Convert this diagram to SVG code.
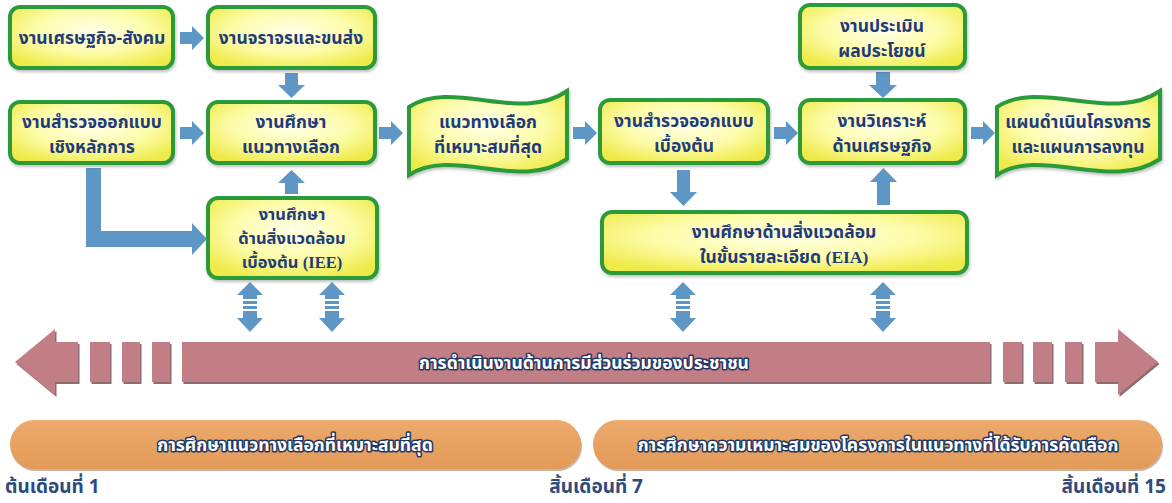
<svg xmlns="http://www.w3.org/2000/svg" width="1172" height="503" viewBox="0 0 1172 503">
<defs>
<radialGradient id="yel" cx="50%" cy="40%" r="65%">
<stop offset="0" stop-color="#FFFFE8"/>
<stop offset="0.55" stop-color="#FDFCA8"/>
<stop offset="1" stop-color="#EEEA48"/>
</radialGradient>
<linearGradient id="org" x1="0" y1="0" x2="0" y2="1">
<stop offset="0" stop-color="#EDAA6C"/>
<stop offset="1" stop-color="#E29A58"/>
</linearGradient>
<filter id="sh" x="-10%" y="-10%" width="120%" height="130%">
<feDropShadow dx="1" dy="2" stdDeviation="1.5" flood-color="#000" flood-opacity="0.25"/>
</filter>
<g id="dbl">
<path d="M0,0 L13,13 L7,13 L7,17 L-7,17 L-7,13 L-13,13 Z"/>
<rect x="-7" y="19" width="14" height="3"/>
<rect x="-7" y="24" width="14" height="3"/>
<path d="M-7,29 L7,29 L7,36 L13,36 L0,50 L-13,36 L-7,36 Z"/>
</g>
<path id="ra" d="M0,-6 L12,-6 L12,-12 L24,0 L12,12 L12,6 L0,6 Z"/>
</defs>
<style>
.box{fill:url(#yel);stroke:#2C9A3A;stroke-width:4;filter:url(#sh)}
.t{font-family:"Noto Sans Thai","Tahoma","DejaVu Sans","Noto Sans",sans-serif;font-weight:bold;font-size:17.5px;fill:#1F3C78;text-anchor:middle}
.s{font-size:16.5px}
.o{font-family:"Noto Sans Thai","Tahoma","DejaVu Sans","Noto Sans",sans-serif;font-weight:bold;font-size:17.5px;fill:#FFFFFF;stroke:#1E3766;stroke-width:3;paint-order:stroke;stroke-linejoin:round;text-anchor:middle}
.lb{font-family:"Noto Sans Thai","Tahoma","DejaVu Sans","Noto Sans",sans-serif;font-weight:bold;font-size:19px;fill:#2E4A7C}
.ser{font-family:"Liberation Serif",serif}
.arr{fill:#5E96C6}
.big{fill:#C17E84}
.bigs{fill:#8E6A72}
</style>
<rect width="1172" height="503" fill="#FFFFFF"/>

<g id="connectors">
<use href="#ra" class="arr" x="180" y="38"/>
<use href="#ra" class="arr" x="180" y="133"/>
<use href="#ra" class="arr" x="379" y="133"/>
<use href="#ra" class="arr" x="573" y="133"/>
<use href="#ra" class="arr" x="774" y="133"/>
<use href="#ra" class="arr" x="971" y="133"/>
<path class="arr" d="M285,73 L298,73 L298,85 L305,85 L291.5,98 L278,85 L285,85 Z"/>
<path class="arr" d="M291.5,170 L305,183 L298,183 L298,194 L285,194 L285,183 L278,183 Z"/>
<path class="arr" d="M677,170 L690,170 L690,192 L697,192 L683.5,206 L670,192 L677,192 Z"/>
<path class="arr" d="M883.5,168 L897,182 L890,182 L890,205 L877,205 L877,182 L870,182 Z"/>
<path class="arr" d="M876,72 L890,72 L890,85 L897,85 L883,98 L869,85 L876,85 Z"/>
<path class="arr" d="M86,168 L101,168 L101,231 L192,231 L192,223 L207,239 L192,255 L192,247 L86,247 Z"/>
<use href="#dbl" class="arr" x="250" y="282"/>
<use href="#dbl" class="arr" x="332" y="282"/>
<use href="#dbl" class="arr" x="683" y="282"/>
<use href="#dbl" class="arr" x="883" y="282"/>
</g>

<g id="b1">
<rect class="box" x="10" y="7" width="163" height="61" rx="10"/>
<text class="t" x="92" y="44">งานเศรษฐกิจ-สังคม</text>
</g>
<g id="b2">
<rect class="box" x="208" y="7" width="167" height="61" rx="10"/>
<text class="t" x="291" y="44">งานจราจรและขนส่ง</text>
</g>
<g id="b3">
<rect class="box" x="10" y="102" width="163" height="61" rx="10"/>
<text class="t" x="92" y="128">งานสำรวจออกแบบ</text>
<text class="t" x="92" y="153">เชิงหลักการ</text>
</g>
<g id="b4">
<rect class="box" x="208" y="102" width="167" height="61" rx="10"/>
<text class="t" x="291" y="128">งานศึกษา</text>
<text class="t" x="291" y="153">แนวทางเลือก</text>
</g>
<g id="iee">
<rect class="box" x="208" y="198" width="169" height="80" rx="10"/>
<text class="t s" x="292" y="220">งานศึกษา</text>
<text class="t s" x="292" y="244">ด้านสิ่งแวดล้อม</text>
<text class="t s" x="292" y="268">เบื้องต้น <tspan class="ser">(IEE)</tspan></text>
</g>
<g id="w1">
<path class="box" d="M409,107 C452,78 520,124 567,91 L567,159 C520,192 452,146 409,175 Z"/>
<text class="t" x="488" y="128">แนวทางเลือก</text>
<text class="t" x="488" y="153">ที่เหมาะสมที่สุด</text>
</g>
<g id="b5">
<rect class="box" x="600" y="100" width="168" height="63" rx="10"/>
<text class="t" x="684" y="127">งานสำรวจออกแบบ</text>
<text class="t" x="684" y="152">เบื้องต้น</text>
</g>
<g id="eia">
<rect class="box" x="602" y="212" width="365" height="61" rx="10"/>
<text class="t" x="784" y="238">งานศึกษาด้านสิ่งแวดล้อม</text>
<text class="t" x="784" y="263">ในขั้นรายละเอียด <tspan class="ser">(EIA)</tspan></text>
</g>
<g id="b6">
<rect class="box" x="800" y="5" width="165" height="63" rx="10"/>
<text class="t" x="882" y="32">งานประเมิน</text>
<text class="t" x="882" y="57">ผลประโยชน์</text>
</g>
<g id="b7">
<rect class="box" x="800" y="100" width="165" height="63" rx="10"/>
<text class="t" x="882" y="127">งานวิเคราะห์</text>
<text class="t" x="882" y="152">ด้านเศรษฐกิจ</text>
</g>
<g id="w2">
<path class="box" d="M997,107 C1040,78 1112,124 1160,91 L1160,159 C1112,192 1040,146 997,175 Z"/>
<text class="t" x="1078" y="128">แผนดำเนินโครงการ</text>
<text class="t" x="1078" y="153">และแผนการลงทุน</text>
</g>

<g id="band">
<g transform="translate(1.5,2)" class="bigs">
<path d="M15,362 L55,329 L55,342 L78,342 L78,382 L55,382 L55,395 Z"/>
<rect x="90" y="342" width="20" height="40"/>
<rect x="122" y="342" width="18" height="40"/>
<rect x="152" y="342" width="18" height="40"/>
<rect x="182" y="342" width="808" height="40"/>
<rect x="1003" y="342" width="19" height="40"/>
<rect x="1033" y="342" width="19" height="40"/>
<rect x="1065" y="342" width="17" height="40"/>
<path d="M1095,342 L1118,342 L1118,329 L1158,362 L1118,395 L1118,382 L1095,382 Z"/>
</g>
<g class="big">
<path d="M15,362 L55,329 L55,342 L78,342 L78,382 L55,382 L55,395 Z"/>
<rect x="90" y="342" width="20" height="40"/>
<rect x="122" y="342" width="18" height="40"/>
<rect x="152" y="342" width="18" height="40"/>
<rect x="182" y="342" width="808" height="40"/>
<rect x="1003" y="342" width="19" height="40"/>
<rect x="1033" y="342" width="19" height="40"/>
<rect x="1065" y="342" width="17" height="40"/>
<path d="M1095,342 L1118,342 L1118,329 L1158,362 L1118,395 L1118,382 L1095,382 Z"/>
</g>
<text class="o" x="584" y="369">การดำเนินงานด้านการมีส่วนร่วมของประชาชน</text>
</g>

<g id="phase1">
<rect x="11" y="422" width="571" height="49" rx="24.5" fill="#9A6A48" opacity="0.5"/>
<rect x="10" y="420" width="571" height="49" rx="24.5" fill="url(#org)"/>
<text class="o" x="295" y="451">การศึกษาแนวทางเลือกที่เหมาะสมที่สุด</text>
</g>
<g id="phase2">
<rect x="594" y="422" width="569" height="49" rx="24.5" fill="#9A6A48" opacity="0.5"/>
<rect x="593" y="420" width="569" height="49" rx="24.5" fill="url(#org)"/>
<text class="o" x="878" y="451">การศึกษาความเหมาะสมของโครงการในแนวทางที่ได้รับการคัดเลือก</text>
</g>
<g id="labels">
<text class="lb" x="5" y="493">ต้นเดือนที่ 1</text>
<text class="lb" x="643" y="493" text-anchor="end">สิ้นเดือนที่ 7</text>
<text class="lb" x="1166" y="493" text-anchor="end">สิ้นเดือนที่ 15</text>
</g>
</svg>
